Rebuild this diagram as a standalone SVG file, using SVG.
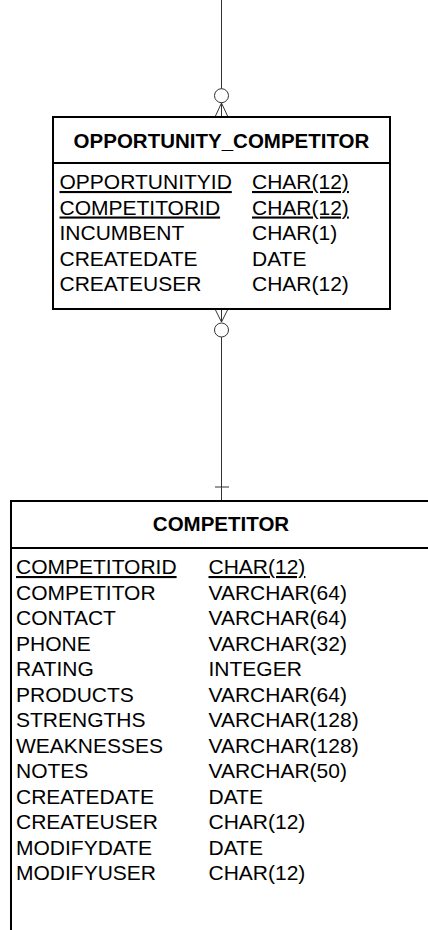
<svg xmlns="http://www.w3.org/2000/svg" width="428" height="930" viewBox="0 0 428 930">
<style>
.box{fill:#fff;stroke:#000;stroke-width:2}
.sep{stroke:#000;stroke-width:2}
.t{font-family:"Liberation Sans",Arial,sans-serif;font-size:21px;fill:#000}
.h{font-family:"Liberation Sans",Arial,sans-serif;font-size:20.5px;font-weight:bold;fill:#000;text-anchor:middle}
.k{text-decoration:underline}
.c{stroke:#333;stroke-width:1;fill:none}
</style>
<rect width="428" height="930" fill="#fff"/>
<g id="connectors">
<line class="c" x1="221.5" y1="0" x2="221.5" y2="88.7"/>
<circle class="c" cx="221.5" cy="95.7" r="7"/>
<path class="c" d="M221.5 102.7V117M221.5 103L215 117M221.5 103L228 117"/>
<path class="c" d="M221.5 309V322M215 309L221.5 322L228 309"/>
<circle class="c" cx="221.5" cy="330" r="7"/>
<line class="c" x1="221.5" y1="337" x2="221.5" y2="501"/>
<line class="c" x1="215" y1="487" x2="229" y2="487"/>
</g>
<g id="opportunity_competitor">
<rect class="box" x="53" y="117" width="337" height="192"/>
<line class="sep" x1="53" y1="163" x2="390" y2="163"/>
<text class="h" x="221.5" y="147.5">OPPORTUNITY_COMPETITOR</text>
<text class="t k" x="59.5" y="189">OPPORTUNITYID</text>
<text class="t k" x="252" y="189">CHAR(12)</text>
<text class="t k" x="59.5" y="214.5">COMPETITORID</text>
<text class="t k" x="252" y="214.5">CHAR(12)</text>
<text class="t" x="59.5" y="240">INCUMBENT</text>
<text class="t" x="252" y="240">CHAR(1)</text>
<text class="t" x="59.5" y="265.5">CREATEDATE</text>
<text class="t" x="252" y="265.5">DATE</text>
<text class="t" x="59.5" y="291">CREATEUSER</text>
<text class="t" x="252" y="291">CHAR(12)</text>
</g>
<g id="competitor">
<rect class="box" x="11" y="501" width="430" height="440"/>
<line class="sep" x1="11" y1="548" x2="428" y2="548"/>
<text class="h" x="221" y="530.5">COMPETITOR</text>
<text class="t k" x="16" y="574">COMPETITORID</text>
<text class="t k" x="208.5" y="574">CHAR(12)</text>
<text class="t" x="16" y="599.5">COMPETITOR</text>
<text class="t" x="208.5" y="599.5">VARCHAR(64)</text>
<text class="t" x="16" y="625">CONTACT</text>
<text class="t" x="208.5" y="625">VARCHAR(64)</text>
<text class="t" x="16" y="650.5">PHONE</text>
<text class="t" x="208.5" y="650.5">VARCHAR(32)</text>
<text class="t" x="16" y="676">RATING</text>
<text class="t" x="208.5" y="676">INTEGER</text>
<text class="t" x="16" y="701.5">PRODUCTS</text>
<text class="t" x="208.5" y="701.5">VARCHAR(64)</text>
<text class="t" x="16" y="727">STRENGTHS</text>
<text class="t" x="208.5" y="727">VARCHAR(128)</text>
<text class="t" x="16" y="752.5">WEAKNESSES</text>
<text class="t" x="208.5" y="752.5">VARCHAR(128)</text>
<text class="t" x="16" y="778">NOTES</text>
<text class="t" x="208.5" y="778">VARCHAR(50)</text>
<text class="t" x="16" y="803.5">CREATEDATE</text>
<text class="t" x="208.5" y="803.5">DATE</text>
<text class="t" x="16" y="829">CREATEUSER</text>
<text class="t" x="208.5" y="829">CHAR(12)</text>
<text class="t" x="16" y="854.5">MODIFYDATE</text>
<text class="t" x="208.5" y="854.5">DATE</text>
<text class="t" x="16" y="880">MODIFYUSER</text>
<text class="t" x="208.5" y="880">CHAR(12)</text>
</g>
</svg>
